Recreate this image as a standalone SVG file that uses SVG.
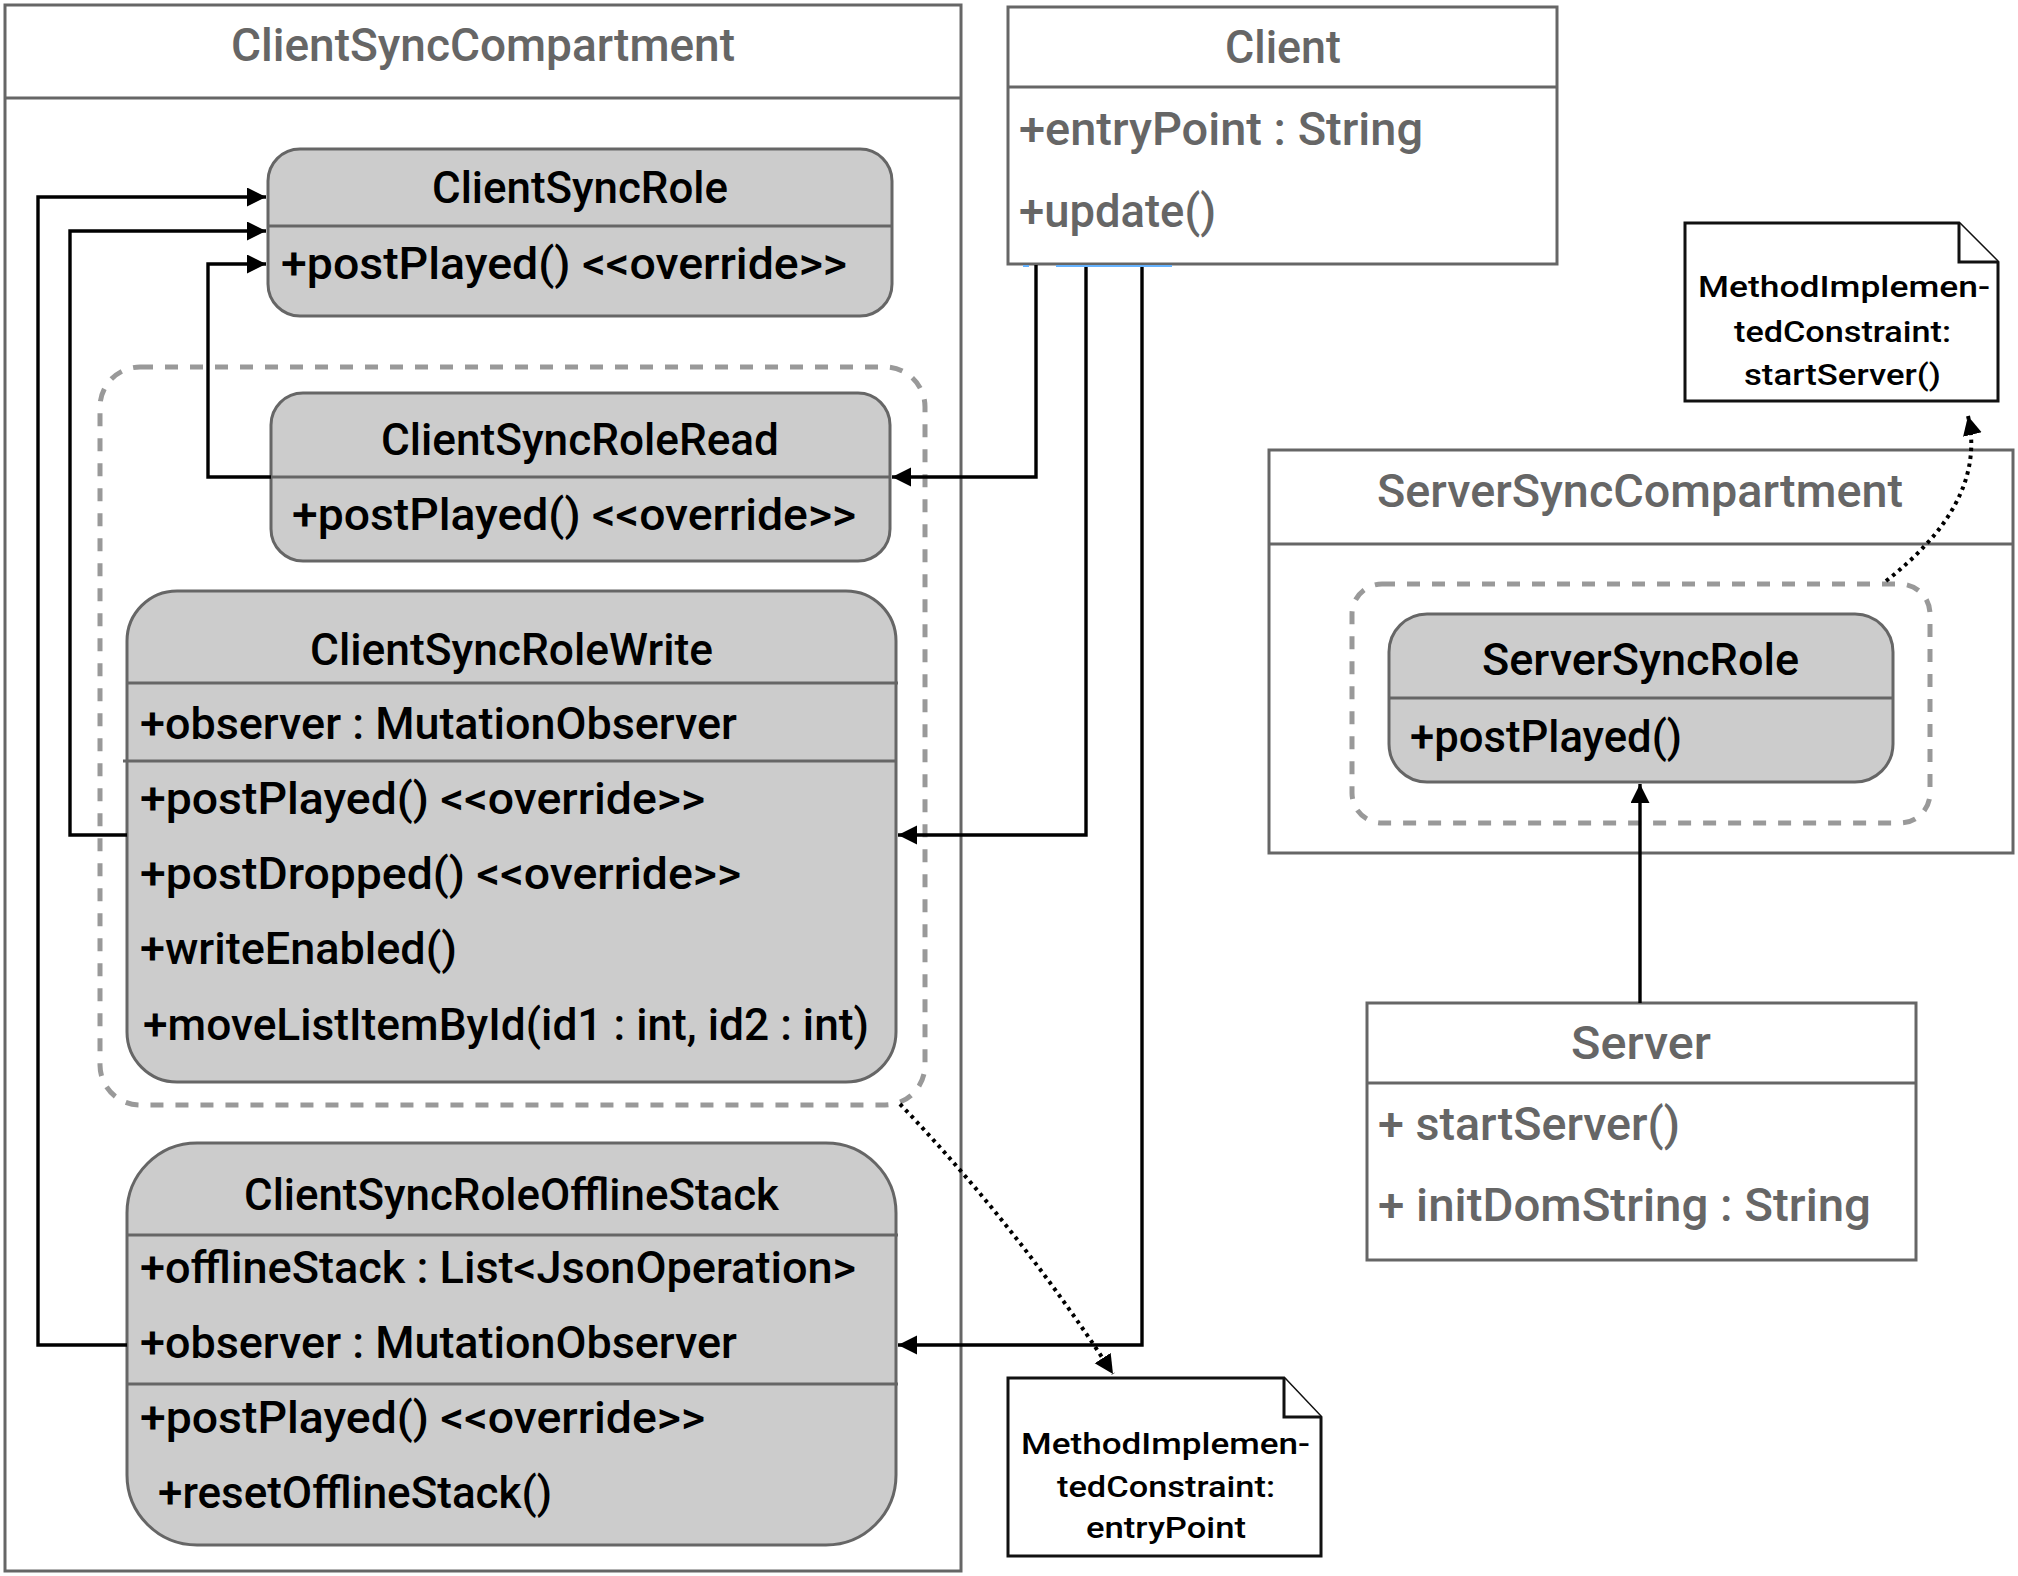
<svg xmlns="http://www.w3.org/2000/svg" width="2018" height="1576" viewBox="0 0 2018 1576">
<defs>
<style>
.frame{fill:#fff;stroke:#666;stroke-width:3}
.role{fill:#ccc;stroke:#666;stroke-width:3}
.sep{stroke:#666;stroke-width:3;fill:none}
.grp{fill:none;stroke:#999;stroke-width:5;stroke-dasharray:13 12}
.note{fill:#fff;stroke:#111;stroke-width:3;stroke-linejoin:miter}
.t{font-family:Roboto,"Liberation Sans",sans-serif;font-weight:500;font-size:44px;fill:#000}
.g{font-family:Roboto,"Liberation Sans",sans-serif;font-weight:500;font-size:46px;fill:#666}
.n{font-family:Roboto,"Liberation Sans",sans-serif;font-weight:500;font-size:29px;fill:#000}
.c{fill:none;stroke:#000;stroke-width:3.4}
.d{fill:none;stroke:#000;stroke-width:4;stroke-dasharray:3.5 4.5}
</style>
<marker id="arr" markerUnits="userSpaceOnUse" markerWidth="22" markerHeight="22" refX="19" refY="9.5" orient="auto">
<path d="M0,0 L19,9.5 L0,19 Z" fill="#000"/>
</marker>
</defs>
<rect width="2018" height="1576" fill="#fff"/>

<g id="ClientSyncCompartment">
<rect class="frame" x="5" y="5" width="956" height="1566"/>
<line class="sep" x1="5" y1="98" x2="961" y2="98"/>
<text class="g" x="231" y="61" textLength="504" lengthAdjust="spacingAndGlyphs">ClientSyncCompartment</text>
</g>

<g id="ClientSyncGroup">
<rect class="grp" x="100" y="367" width="825" height="738" rx="40"/>
</g>

<g id="ClientSyncRole">
<rect class="role" x="268" y="149" width="624" height="167" rx="32"/>
<line class="sep" x1="268" y1="226" x2="892" y2="226"/>
<text class="t" x="432" y="203" textLength="296" lengthAdjust="spacingAndGlyphs">ClientSyncRole</text>
<text class="t" x="281" y="279" textLength="566" lengthAdjust="spacingAndGlyphs">+postPlayed() &lt;&lt;override&gt;&gt;</text>
</g>

<g id="ClientSyncRoleRead">
<rect class="role" x="271" y="393" width="619" height="168" rx="32"/>
<line class="sep" x1="271" y1="477" x2="890" y2="477"/>
<text class="t" x="381" y="455" textLength="398" lengthAdjust="spacingAndGlyphs">ClientSyncRoleRead</text>
<text class="t" x="292" y="530" textLength="564" lengthAdjust="spacingAndGlyphs">+postPlayed() &lt;&lt;override&gt;&gt;</text>
</g>

<g id="ClientSyncRoleWrite">
<rect class="role" x="127" y="591" width="769" height="491" rx="50"/>
<line class="sep" x1="127" y1="683" x2="898" y2="683"/>
<line class="sep" x1="123" y1="761" x2="896" y2="761"/>
<text class="t" x="310" y="665" textLength="403" lengthAdjust="spacingAndGlyphs">ClientSyncRoleWrite</text>
<text class="t" x="140" y="739" textLength="597" lengthAdjust="spacingAndGlyphs">+observer : MutationObserver</text>
<text class="t" x="140" y="814" textLength="565" lengthAdjust="spacingAndGlyphs">+postPlayed() &lt;&lt;override&gt;&gt;</text>
<text class="t" x="140" y="889" textLength="601" lengthAdjust="spacingAndGlyphs">+postDropped() &lt;&lt;override&gt;&gt;</text>
<text class="t" x="140" y="964" textLength="317" lengthAdjust="spacingAndGlyphs">+writeEnabled()</text>
<text class="t" x="143" y="1040" textLength="726" lengthAdjust="spacingAndGlyphs">+moveListItemById(id1 : int, id2 : int)</text>
</g>

<g id="ClientSyncRoleOfflineStack">
<rect class="role" x="127" y="1143" width="769" height="402" rx="70"/>
<line class="sep" x1="127" y1="1235" x2="898" y2="1235"/>
<line class="sep" x1="127" y1="1384" x2="898" y2="1384"/>
<text class="t" x="244" y="1210" textLength="535" lengthAdjust="spacingAndGlyphs">ClientSyncRoleOfflineStack</text>
<text class="t" x="140" y="1283" textLength="716" lengthAdjust="spacingAndGlyphs">+offlineStack : List&lt;JsonOperation&gt;</text>
<text class="t" x="140" y="1358" textLength="597" lengthAdjust="spacingAndGlyphs">+observer : MutationObserver</text>
<text class="t" x="140" y="1433" textLength="565" lengthAdjust="spacingAndGlyphs">+postPlayed() &lt;&lt;override&gt;&gt;</text>
<text class="t" x="158" y="1508" textLength="394" lengthAdjust="spacingAndGlyphs">+resetOfflineStack()</text>
</g>

<g id="Client">
<rect class="frame" x="1008" y="7" width="549" height="257"/>
<line class="sep" x1="1008" y1="87" x2="1557" y2="87"/>
<text class="g" x="1225" y="63" textLength="116" lengthAdjust="spacingAndGlyphs">Client</text>
<text class="g" x="1019" y="145" textLength="404" lengthAdjust="spacingAndGlyphs">+entryPoint : String</text>
<text class="g" x="1019" y="227" textLength="197" lengthAdjust="spacingAndGlyphs">+update()</text>
</g>

<g id="NoteStartServer">
<path class="note" d="M1685,223 H1959 L1998,262 V401 H1685 Z"/>
<path class="note" d="M1959,223 V262 H1998"/>
<text class="n" x="1698" y="297" textLength="292" lengthAdjust="spacingAndGlyphs">MethodImplemen-</text>
<text class="n" x="1734" y="342" textLength="217" lengthAdjust="spacingAndGlyphs">tedConstraint:</text>
<text class="n" x="1744" y="385" textLength="197" lengthAdjust="spacingAndGlyphs">startServer()</text>
</g>

<g id="ServerSyncCompartment">
<rect class="frame" x="1269" y="450" width="744" height="403"/>
<line class="sep" x1="1269" y1="544" x2="2013" y2="544"/>
<text class="g" x="1377" y="507" textLength="526" lengthAdjust="spacingAndGlyphs">ServerSyncCompartment</text>
</g>

<g id="ServerSyncGroup">
<rect class="grp" x="1352" y="584" width="578" height="239" rx="30"/>
</g>

<g id="ServerSyncRole">
<rect class="role" x="1389" y="614" width="504" height="168" rx="38"/>
<line class="sep" x1="1389" y1="698" x2="1893" y2="698"/>
<text class="t" x="1482" y="675" textLength="317" lengthAdjust="spacingAndGlyphs">ServerSyncRole</text>
<text class="t" x="1410" y="752" textLength="272" lengthAdjust="spacingAndGlyphs">+postPlayed()</text>
</g>

<g id="Server">
<rect class="frame" x="1367" y="1003" width="549" height="257"/>
<line class="sep" x1="1367" y1="1083" x2="1916" y2="1083"/>
<text class="g" x="1571" y="1059" textLength="140" lengthAdjust="spacingAndGlyphs">Server</text>
<text class="g" x="1378" y="1140" textLength="302" lengthAdjust="spacingAndGlyphs">+ startServer()</text>
<text class="g" x="1378" y="1221" textLength="493" lengthAdjust="spacingAndGlyphs">+ initDomString : String</text>
</g>

<g id="NoteEntryPoint">
<path class="note" d="M1008,1378 H1284 L1321,1417 V1556 H1008 Z"/>
<path class="note" d="M1284,1378 V1417 H1321"/>
<text class="n" x="1021" y="1454" textLength="289" lengthAdjust="spacingAndGlyphs">MethodImplemen-</text>
<text class="n" x="1057" y="1497" textLength="218" lengthAdjust="spacingAndGlyphs">tedConstraint:</text>
<text class="n" x="1086" y="1538" textLength="160" lengthAdjust="spacingAndGlyphs">entryPoint</text>
</g>

<g id="connectors">
<path class="c" d="M127,1345 H38 V197 H266" marker-end="url(#arr)"/>
<path class="c" d="M127,835 H70 V231 H266" marker-end="url(#arr)"/>
<path class="c" d="M271,477 H208 V264 H266" marker-end="url(#arr)"/>
<path class="c" d="M1036,265 V477 H892" marker-end="url(#arr)"/>
<path class="c" d="M1086,265 V835 H898" marker-end="url(#arr)"/>
<path class="c" d="M1142,265 V1345 H898" marker-end="url(#arr)"/>
<path class="c" d="M1640,1003 V784" marker-end="url(#arr)"/>
<path class="d" d="M900,1104 Q1020,1230 1113,1374" marker-end="url(#arr)"/>
<path class="d" d="M1886,581 C1945,535 1983,480 1968,416" marker-end="url(#arr)"/>
<path d="M1023,266 H1029 M1056,266 H1172" fill="none" stroke="#66b3ff" stroke-width="2"/>
</g>
</svg>
